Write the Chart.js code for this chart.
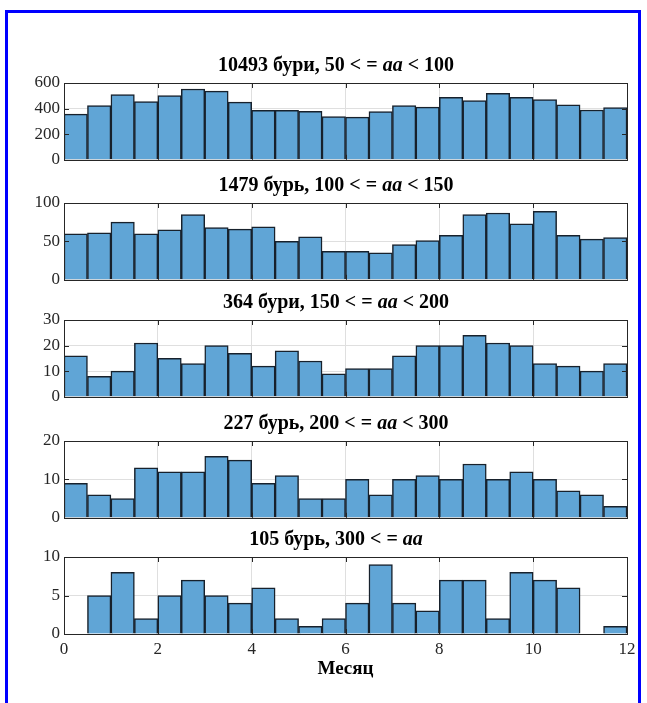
<!DOCTYPE html>
<html>
<head>
<meta charset="utf-8">
<script src="https://cdn.jsdelivr.net/npm/chart.js@4.4.1/dist/chart.umd.min.js"></script>
<style>
  html, body { margin: 0; padding: 0; background: #fff; width: 647px; height: 703px; overflow: hidden; }
  #frame { position: absolute; left: 5px; top: 10px; width: 636px; height: 720px;
           border: 3px solid #0000ff; border-bottom: none; box-sizing: border-box; }
  canvas { position: absolute; left: 0; }
</style>
</head>
<body>
<div id="frame"></div>
<div id="wrap"></div>
<script>
// Month bins (half-month width), centres on the 0..12 axis
const binCenters = [0.25, 0.75, 1.25, 1.75, 2.25, 2.75, 3.25, 3.75, 4.25, 4.75, 5.25, 5.75,
                    6.25, 6.75, 7.25, 7.75, 8.25, 8.75, 9.25, 9.75, 10.25, 10.75, 11.25, 11.75];

// Storm counts per bin for each aa range
const storms50to100  = [357, 423, 509, 454, 501, 553, 537, 451, 386, 386, 378, 337,
                        334, 376, 423, 412, 488, 462, 519, 488, 470, 430, 389, 407];
const storms100to150 = [60, 61, 75, 60, 65, 85, 68, 66, 69, 50, 56, 37,
                        37, 35, 46, 51, 58, 85, 87, 73, 89, 58, 53, 55];
const storms150to200 = [16, 8, 10, 21, 15, 13, 20, 17, 12, 18, 14, 9,
                        11, 11, 16, 20, 20, 24, 21, 20, 13, 12, 10, 13];
const storms200to300 = [9, 6, 5, 13, 12, 12, 16, 15, 9, 11, 5, 5,
                        10, 6, 10, 11, 10, 14, 10, 12, 10, 7, 6, 3];
const storms300up    = [0, 5, 8, 2, 5, 7, 5, 4, 6, 2, 1, 2,
                        4, 9, 4, 3, 7, 7, 2, 8, 7, 6, 0, 1];

// Panel titles: [plain, italic, plain]
const panelTitles = [
  ['10493 бури, 50 < = ', 'aa', ' < 100'],
  ['1479 бурь, 100 < = ', 'aa', ' < 150'],
  ['364 бури, 150 < = ', 'aa', ' < 200'],
  ['227 бурь, 200 < = ', 'aa', ' < 300'],
  ['105 бурь, 300 < = ', 'aa', '']
];
const yMaxima = [600, 100, 30, 20, 10];
const ySteps  = [200, 50, 10, 10, 5];
const xTickStep = 2;
const xAxisLabel = 'Месяц';

const seriesList = [storms50to100, storms100to150, storms150to200, storms200to300, storms300up];

// Layout
const W = 647;
const plotTops = [83, 203, 320, 441, 557];
const plotH = 77;
const padTop = 40;
const padBottom = 14;
const leftAxisW = 64;
const rightPad = 20;
const titleCenterX = 336;

const FONT = '"Liberation Serif", "Times New Roman", serif';
const INK = '#262626';

// Box around the axes with inward tick marks on all four sides
const boxPlugin = {
  id: 'boxTicks',
  afterDatasetsDraw(chart) {
    const { ctx, chartArea: a, scales } = chart;
    const tl = 5;
    ctx.save();
    ctx.strokeStyle = INK;
    ctx.lineWidth = 1;
    ctx.beginPath();
    scales.x.ticks.forEach(t => {
      const px = Math.round(scales.x.getPixelForValue(t.value)) + 0.5;
      ctx.moveTo(px, a.bottom); ctx.lineTo(px, a.bottom - tl);
      ctx.moveTo(px, a.top); ctx.lineTo(px, a.top + tl);
    });
    scales.y.ticks.forEach(t => {
      const py = Math.round(scales.y.getPixelForValue(t.value)) + 0.5;
      ctx.moveTo(a.left, py); ctx.lineTo(a.left + tl, py);
      ctx.moveTo(a.right, py); ctx.lineTo(a.right - tl, py);
    });
    ctx.stroke();
    ctx.strokeRect(Math.round(a.left) + 0.5, Math.round(a.top) + 0.5,
                   Math.round(a.right - a.left), Math.round(a.bottom - a.top));
    ctx.restore();
  }
};

// Bold title with the italic "aa"
const titlePlugin = {
  id: 'richTitle',
  afterDraw(chart, args, opts) {
    const { ctx, chartArea: a } = chart;
    const parts = opts.parts;
    const fonts = ['bold 20px ' + FONT, 'italic bold 20px ' + FONT, 'bold 20px ' + FONT];
    ctx.save();
    let total = 0;
    const widths = parts.map((p, i) => { ctx.font = fonts[i]; const w = ctx.measureText(p).width; total += w; return w; });
    let x = titleCenterX - total / 2;
    const y = a.top - 17;
    ctx.fillStyle = '#000';
    ctx.textBaseline = 'middle';
    ctx.textAlign = 'left';
    parts.forEach((p, i) => { ctx.font = fonts[i]; ctx.fillText(p, x, y); x += widths[i]; });
    ctx.restore();
  }
};

const wrap = document.getElementById('wrap');

seriesList.forEach((series, idx) => {
  const isLast = idx === seriesList.length - 1;
  const xAxisH = isLast ? 46 : 0;
  const bottomPad = isLast ? 0 : padBottom;
  const cv = document.createElement('canvas');
  const h = padTop + plotH + xAxisH + bottomPad;
  cv.width = W; cv.height = h;
  cv.style.width = W + 'px'; cv.style.height = h + 'px';
  cv.style.top = (plotTops[idx] - padTop) + 'px';
  wrap.appendChild(cv);

  new Chart(cv, {
    type: 'bar',
    data: {
      datasets: [{
        data: binCenters.map((c, i) => ({ x: c, y: series[i] })),
        backgroundColor: 'rgb(96,165,214)',
        borderColor: '#17212c',
        borderWidth: 1.5,
        barPercentage: 1,
        categoryPercentage: 1
      }]
    },
    options: {
      responsive: false,
      animation: false,
      devicePixelRatio: 1,
      layout: { padding: { left: 0, right: rightPad, top: padTop, bottom: bottomPad } },
      plugins: {
        legend: { display: false },
        tooltip: { enabled: false },
        richTitle: { parts: panelTitles[idx] }
      },
      scales: {
        x: {
          type: 'linear',
          min: 0, max: 12,
          offset: false,
          grid: { display: true, offset: false, color: '#dfdfdf', drawTicks: false, lineWidth: 1 },
          border: { display: false },
          ticks: {
            display: isLast,
            stepSize: xTickStep,
            autoSkip: false,
            maxRotation: 0,
            padding: 5,
            color: INK,
            font: { family: FONT, size: 17 }
          },
          title: {
            display: isLast,
            text: xAxisLabel,
            color: '#000',
            padding: { top: 0, bottom: 0 },
            font: { family: FONT, size: 19, weight: 'bold' }
          },
          afterFit(s) { s.height = xAxisH; }
        },
        y: {
          min: 0, max: yMaxima[idx],
          grid: { color: '#dfdfdf', drawTicks: false, lineWidth: 1 },
          border: { display: false },
          ticks: {
            stepSize: ySteps[idx],
            padding: 4,
            color: INK,
            font: { family: FONT, size: 17 }
          },
          afterFit(s) { s.width = leftAxisW; }
        }
      }
    },
    plugins: [boxPlugin, titlePlugin]
  });
});
</script>
</body>
</html>
